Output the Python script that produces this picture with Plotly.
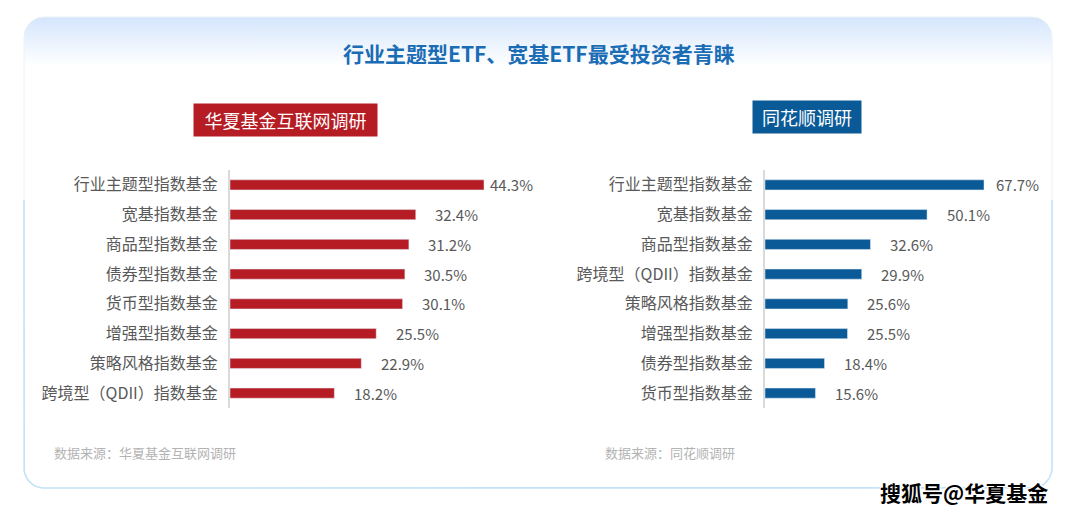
import numpy as np
import plotly.graph_objects as go

W, H = 1074, 516

title_text = "行业主题型ETF、宽基ETF最受投资者青睐"

left_badge = "华夏基金互联网调研"
left_categories = ["行业主题型指数基金", "宽基指数基金", "商品型指数基金", "债券型指数基金",
                   "货币型指数基金", "增强型指数基金", "策略风格指数基金", "跨境型（QDII）指数基金"]
left_values = [44.3, 32.4, 31.2, 30.5, 30.1, 25.5, 22.9, 18.2]
left_source = "数据来源：华夏基金互联网调研"

right_badge = "同花顺调研"
right_categories = ["行业主题型指数基金", "宽基指数基金", "商品型指数基金", "跨境型（QDII）指数基金",
                    "策略风格指数基金", "增强型指数基金", "债券型指数基金", "货币型指数基金"]
right_values = [67.7, 50.1, 32.6, 29.9, 25.6, 25.5, 18.4, 15.6]
right_source = "数据来源：同花顺调研"

watermark = "搜狐号@华夏基金"

# style
FONT = "Noto Sans CJK SC"
RED = "#b51c24"
BLUE = "#0a5a97"
TXT = "#595959"
left_label_shift = [27, 41, 41, 41, 41, 41, 41, 41]
right_label_shift = [33, 41, 41, 41, 41, 41, 41, 41]


def px_x(v):
    return v / W


def px_y(v):
    return 1 - v / H


def rounded_rect(x0, y0, x1, y1, r, n=12):
    xs, ys = [], []
    corners = [(x1 - r, y0 + r, -90, 0), (x1 - r, y1 - r, 0, 90),
               (x0 + r, y1 - r, 90, 180), (x0 + r, y0 + r, 180, 270)]
    for cx, cy, a0, a1 in corners:
        for a in np.linspace(np.radians(a0), np.radians(a1), n):
            xs.append(cx + r * np.cos(a))
            ys.append(cy + r * np.sin(a))
    xs.append(xs[0]); ys.append(ys[0])
    return xs, ys


def border_path(x0, y0, x1, y1, r, ytop, n=12):
    xs, ys = [x0], [ytop]
    for a in np.linspace(np.radians(180), np.radians(90), n):
        xs.append(x0 + r + r * np.cos(a)); ys.append(y1 - r + r * np.sin(a))
    for a in np.linspace(np.radians(90), np.radians(0), n):
        xs.append(x1 - r + r * np.cos(a)); ys.append(y1 - r + r * np.sin(a))
    xs.append(x1); ys.append(ytop)
    return xs, ys


fig = go.Figure()

# card background (axis x/y in pixel units)
cx0, cy0, cx1, cy1, cr = 24, 17, 1052, 488, 20
rx, ry = rounded_rect(cx0, cy0, cx1, cy1, cr)
fig.add_trace(go.Scatter(
    x=rx, y=ry, mode="lines", fill="toself",
    line=dict(color="rgba(236,242,248,1)", width=1),
    fillgradient=dict(type="vertical",
                      colorscale=[[0, "#d4e6fc"], [1, "#ffffff"]],
                      start=cy0, stop=66),
    hoverinfo="skip", showlegend=False, xaxis="x", yaxis="y"))
bx, by = border_path(cx0, cy0, cx1, cy1, cr, 200)
fig.add_trace(go.Scatter(
    x=bx, y=by, mode="lines", line=dict(color="#c3e3f8", width=1.6),
    hoverinfo="skip", showlegend=False, xaxis="x", yaxis="y"))

# bars
fig.add_trace(go.Bar(
    x=left_values, y=left_categories, orientation="h", marker=dict(color=RED),
    width=0.34, hoverinfo="skip", showlegend=False, xaxis="x2", yaxis="y2"))
fig.add_trace(go.Bar(
    x=right_values, y=right_categories, orientation="h", marker=dict(color=BLUE),
    width=0.34, hoverinfo="skip", showlegend=False, xaxis="x3", yaxis="y3"))

ydom = [px_y(408), px_y(170)]
l_ppu = (484 - 230) / 44.3
r_ppu = (984 - 765) / 67.7

axis_common = dict(showgrid=False, zeroline=False, showticklabels=False, fixedrange=True)
ycat_common = dict(showgrid=False, zeroline=False, fixedrange=True, showline=True,
                   linecolor="#dadada", linewidth=2, ticks="",
                   ticklabelstandoff=7, tickfont=dict(family=FONT, size=16, color=TXT))

fig.update_layout(
    width=W, height=H, margin=dict(l=0, r=0, t=0, b=0),
    paper_bgcolor="white", plot_bgcolor="rgba(0,0,0,0)",
    font=dict(family=FONT),
    xaxis=dict(domain=[0, 1], range=[0, W], visible=False, fixedrange=True),
    yaxis=dict(domain=[0, 1], range=[H, 0], visible=False, fixedrange=True),
    xaxis2=dict(domain=[px_x(230), px_x(530)], range=[0, 300 / l_ppu], anchor="y2", **axis_common),
    yaxis2=dict(domain=ydom, anchor="x2", categoryorder="array",
                categoryarray=left_categories[::-1], **ycat_common),
    xaxis3=dict(domain=[px_x(765), px_x(1015)], range=[0, 250 / r_ppu], anchor="y3", **axis_common),
    yaxis3=dict(domain=ydom, anchor="x3", categoryorder="array",
                categoryarray=right_categories[::-1], **ycat_common),
    bargap=0.6,
)

ann = [
    dict(text=f"<b>{title_text}</b>", x=px_x(539), y=px_y(53),
         font=dict(family=FONT, size=21, color="#1a6db5")),
    dict(text=left_badge, x=px_x(285.5), y=px_y(120), width=183, height=32, bgcolor=RED,
         borderpad=0, align="center", valign="middle",
         font=dict(family=FONT, size=18, color="white")),
    dict(text=right_badge, x=px_x(807), y=px_y(117), width=108, height=32, bgcolor=BLUE,
         borderpad=0, align="center", valign="middle",
         font=dict(family=FONT, size=18, color="white")),
    dict(text=left_source, x=px_x(52), y=px_y(452), xanchor="left",
         font=dict(family=FONT, size=13, color="#b3b3b3")),
    dict(text=right_source, x=px_x(603), y=px_y(452), xanchor="left",
         font=dict(family=FONT, size=13, color="#b3b3b3")),
    dict(text=f"<b>{watermark}</b>", x=px_x(1050), y=px_y(492), xanchor="right",
         font=dict(family=FONT, size=21, color="black",
                   shadow="1px 1px 0 white, -1px -1px 0 white, 1px -1px 0 white, -1px 1px 0 white")),
]
for a in ann:
    a.setdefault("xanchor", "center")
    a.update(xref="paper", yref="paper", yanchor="middle", showarrow=False)

for v, c, s in zip(left_values, left_categories, left_label_shift):
    ann.append(dict(text=f"{v:.1f}%", x=v, y=c, xref="x2", yref="y2", xanchor="center",
                    yanchor="middle", xshift=s, showarrow=False,
                    font=dict(family=FONT, size=15, color=TXT)))
for v, c, s in zip(right_values, right_categories, right_label_shift):
    ann.append(dict(text=f"{v:.1f}%", x=v, y=c, xref="x3", yref="y3", xanchor="center",
                    yanchor="middle", xshift=s, showarrow=False,
                    font=dict(family=FONT, size=15, color=TXT)))
fig.update_layout(annotations=ann)

fig.write_html("out.html", config={"displayModeBar": False, "staticPlot": True})
